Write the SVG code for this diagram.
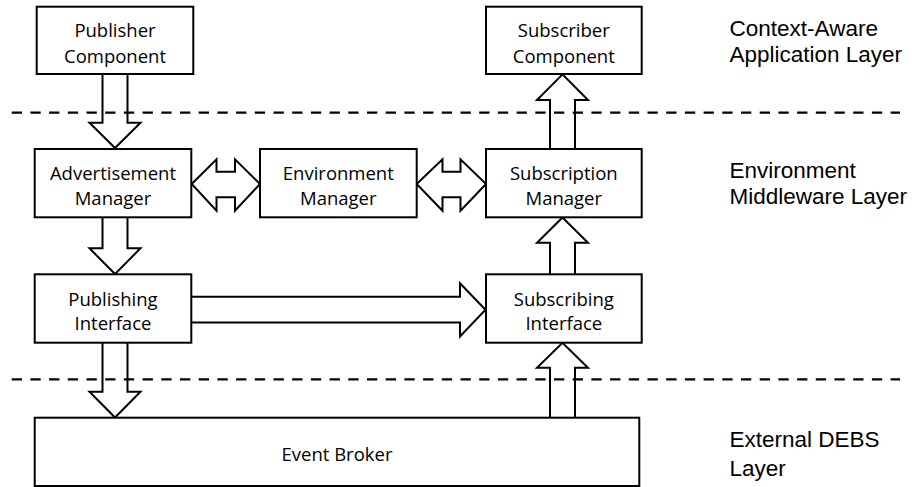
<svg xmlns="http://www.w3.org/2000/svg" width="921" height="487" viewBox="0 0 921 487">
<style>
.box{fill:#fff;stroke:#000;stroke-width:2}
.arr{fill:none;stroke:#000;stroke-width:2;stroke-linejoin:miter}
.dash{stroke:#000;stroke-width:2.3;stroke-dasharray:10.3 8.4;fill:none}
.t{font-family:"Open Sans","DejaVu Sans",sans-serif;font-size:18.5px;fill:#000;text-anchor:middle}
.lab{font-family:"Liberation Sans",Arial,sans-serif;font-size:22.5px;fill:#000}
</style>
<rect width="921" height="487" fill="#fff"/>
<g id="layers">
<line class="dash" x1="11.7" y1="112.7" x2="900" y2="112.7"/>
<line class="dash" x1="11.7" y1="379.3" x2="900" y2="379.3"/>
<text class="lab" x="729.5" y="35.7">Context-Aware</text>
<text class="lab" x="729.5" y="61.7">Application Layer</text>
<text class="lab" x="729.5" y="178.3">Environment</text>
<text class="lab" x="729.5" y="204">Middleware Layer</text>
<text class="lab" x="729.5" y="446.5">External DEBS</text>
<text class="lab" x="729.5" y="475.5">Layer</text>
</g>
<g id="connectors">
<path class="arr" d="M102.5,74 V122.7 H89.5 L115,148 L140.5,122.7 H127.5 V74"/>
<path class="arr" d="M102.5,217.3 V248.3 H89.5 L115,274 L140.5,248.3 H127.5 V217.3"/>
<path class="arr" d="M102.5,342.7 V391.7 H89.5 L115,417.5 L140.5,391.7 H127.5 V342.7"/>
<path class="arr" d="M191.3,296.8 H460 V283.3 L485.5,309.8 L460,336.5 V322.5 H191.3"/>
<path class="arr" d="M550,149 V100 H537 L562.5,74.3 L588,100 H575 V149"/>
<path class="arr" d="M550,274.3 V242.7 H537 L562.5,217.5 L588,242.7 H575 V274.3"/>
<path class="arr" d="M550,417.7 V367.7 H537 L562.5,342.9 L588,367.7 H575 V417.7"/>
<path class="arr" d="M191.7,184 L216.5,159.3 V171.8 H235 V159.3 L260,184 L235,210.7 V197.3 H216.5 V210.7 Z"/>
<path class="arr" d="M416.7,184 L442.5,159.3 V171.8 H460.5 V159.3 L486,184 L460.5,210.7 V197.3 H442.5 V210.7 Z"/>
</g>
<g id="publisher-component">
<rect class="box" x="36.7" y="6.7" width="156.6" height="67.3"/>
<text class="t" x="115" y="37.3">Publisher</text>
<text class="t" x="115" y="62.7">Component</text>
</g>
<g id="subscriber-component">
<rect class="box" x="486" y="6.7" width="155.7" height="67.3"/>
<text class="t" x="563.8" y="37.3">Subscriber</text>
<text class="t" x="563.8" y="62.7">Component</text>
</g>
<g id="advertisement-manager">
<rect class="box" x="34.7" y="149" width="156.6" height="68.3"/>
<text class="t" x="113" y="179.5">Advertisement</text>
<text class="t" x="113" y="204.5">Manager</text>
</g>
<g id="environment-manager">
<rect class="box" x="260" y="149" width="156.7" height="68.3"/>
<text class="t" x="338.3" y="179.5">Environment</text>
<text class="t" x="338.3" y="204.5">Manager</text>
</g>
<g id="subscription-manager">
<rect class="box" x="486" y="149" width="155.7" height="68.3"/>
<text class="t" x="563.8" y="179.5">Subscription</text>
<text class="t" x="563.8" y="204.5">Manager</text>
</g>
<g id="publishing-interface">
<rect class="box" x="34.7" y="274.3" width="156.6" height="68.4"/>
<text class="t" x="113" y="305.5">Publishing</text>
<text class="t" x="113" y="330">Interface</text>
</g>
<g id="subscribing-interface">
<rect class="box" x="486" y="274.3" width="155.7" height="68.4"/>
<text class="t" x="563.8" y="305.5">Subscribing</text>
<text class="t" x="563.8" y="330">Interface</text>
</g>
<g id="event-broker">
<rect class="box" x="34.7" y="417.7" width="604.6" height="68.3"/>
<text class="t" x="337" y="460.7">Event Broker</text>
</g>
</svg>
